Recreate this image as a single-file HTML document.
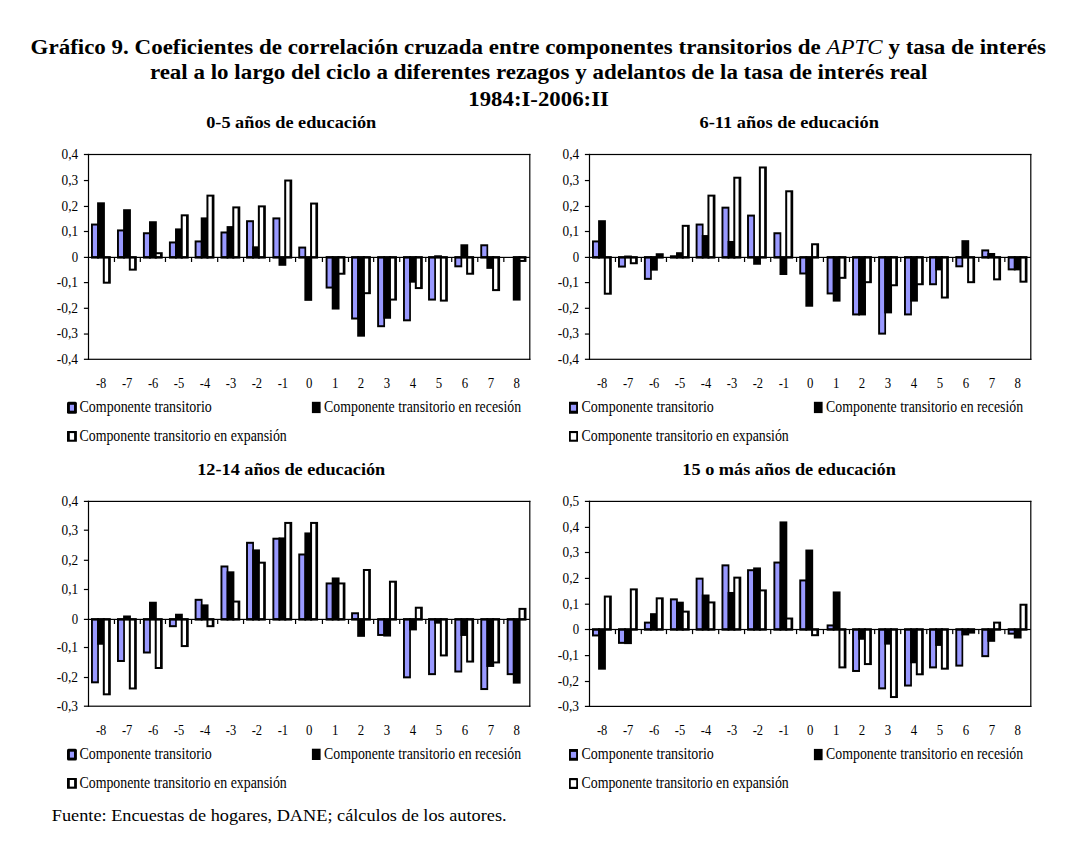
<!DOCTYPE html>
<html lang="es"><head><meta charset="utf-8"><title>Gráfico 9</title>
<style>html,body{margin:0;padding:0;background:#fff}body{width:1087px;height:845px;overflow:hidden}svg{display:block}text{fill:#000;white-space:pre}</style>
</head><body>
<svg width="1087" height="845" viewBox="0 0 1087 845">
<rect width="1087" height="845" fill="#fff"/>
<text x="30.6" y="53.5" font-family="'Liberation Serif','Times New Roman',serif" font-weight="bold" font-size="20.2" textLength="1015.4" lengthAdjust="spacingAndGlyphs">Gráfico 9. Coeficientes de correlación cruzada entre componentes transitorios de <tspan font-style="italic" font-weight="normal">APTC</tspan> y tasa de interés</text>
<text x="149.9" y="79" font-family="'Liberation Serif','Times New Roman',serif" font-weight="bold" font-size="20.2" textLength="777.6" lengthAdjust="spacingAndGlyphs">real a lo largo del ciclo a diferentes rezagos y adelantos de la tasa de interés real</text>
<text x="468.3" y="105.9" font-family="'Liberation Serif','Times New Roman',serif" font-weight="bold" font-size="20.2" textLength="140.6" lengthAdjust="spacingAndGlyphs">1984:I-2006:II</text>
<g>
<text x="206.2" y="127.8" font-family="'Liberation Serif','Times New Roman',serif" font-weight="bold" font-size="16.6" textLength="170.1" lengthAdjust="spacingAndGlyphs">0-5 años de educación</text>
<rect x="83.9" y="153.9" width="4.6" height="1.2" fill="#000"/>
<text x="61.5" y="158.9" font-family="'Liberation Serif','Times New Roman',serif" font-size="14.2" textLength="16.6" lengthAdjust="spacingAndGlyphs">0,4</text>
<rect x="83.9" y="179.95" width="4.6" height="1.2" fill="#000"/>
<text x="61.5" y="184.95" font-family="'Liberation Serif','Times New Roman',serif" font-size="14.2" textLength="16.6" lengthAdjust="spacingAndGlyphs">0,3</text>
<rect x="83.9" y="205.85" width="4.6" height="1.2" fill="#000"/>
<text x="61.5" y="210.85" font-family="'Liberation Serif','Times New Roman',serif" font-size="14.2" textLength="16.6" lengthAdjust="spacingAndGlyphs">0,2</text>
<rect x="83.9" y="230.9" width="4.6" height="1.2" fill="#000"/>
<text x="61.5" y="235.9" font-family="'Liberation Serif','Times New Roman',serif" font-size="14.2" textLength="16.6" lengthAdjust="spacingAndGlyphs">0,1</text>
<rect x="83.9" y="256.8" width="4.6" height="1.2" fill="#000"/>
<text x="71.7" y="261.8" font-family="'Liberation Serif','Times New Roman',serif" font-size="14.2" textLength="6.4" lengthAdjust="spacingAndGlyphs">0</text>
<rect x="83.9" y="282" width="4.6" height="1.2" fill="#000"/>
<text x="56.8" y="287" font-family="'Liberation Serif','Times New Roman',serif" font-size="14.2" textLength="21.3" lengthAdjust="spacingAndGlyphs">-0,1</text>
<rect x="83.9" y="307.7" width="4.6" height="1.2" fill="#000"/>
<text x="56.8" y="312.7" font-family="'Liberation Serif','Times New Roman',serif" font-size="14.2" textLength="21.3" lengthAdjust="spacingAndGlyphs">-0,2</text>
<rect x="83.9" y="333.45" width="4.6" height="1.2" fill="#000"/>
<text x="56.8" y="338.45" font-family="'Liberation Serif','Times New Roman',serif" font-size="14.2" textLength="21.3" lengthAdjust="spacingAndGlyphs">-0,3</text>
<rect x="83.9" y="358.7" width="4.6" height="1.2" fill="#000"/>
<text x="56.8" y="363.7" font-family="'Liberation Serif','Times New Roman',serif" font-size="14.2" textLength="21.3" lengthAdjust="spacingAndGlyphs">-0,4</text>
<rect x="91" y="223.55" width="7.9" height="35.05" fill="#000"/>
<rect x="92.9" y="225.55" width="4.3" height="30.55" fill="#9999ff"/>
<rect x="97.1" y="202.31" width="7.8" height="56.29" fill="#000"/>
<rect x="102.8" y="256.1" width="8" height="27.59" fill="#000"/>
<rect x="104.8" y="258.6" width="3.3" height="23.09" fill="#fff"/>
<rect x="117.01" y="229.43" width="7.9" height="29.17" fill="#000"/>
<rect x="118.91" y="231.43" width="4.3" height="24.67" fill="#9999ff"/>
<rect x="123.11" y="209.22" width="7.8" height="49.38" fill="#000"/>
<rect x="128.81" y="256.1" width="8" height="14.54" fill="#000"/>
<rect x="130.81" y="258.6" width="3.3" height="10.04" fill="#fff"/>
<rect x="142.92" y="232.25" width="7.9" height="26.35" fill="#000"/>
<rect x="144.82" y="234.25" width="4.3" height="21.85" fill="#9999ff"/>
<rect x="149.02" y="221.24" width="7.8" height="37.36" fill="#000"/>
<rect x="154.72" y="252.21" width="8" height="6.39" fill="#000"/>
<rect x="156.72" y="254.21" width="3.3" height="1.89" fill="#fff"/>
<rect x="168.93" y="241.46" width="7.9" height="17.14" fill="#000"/>
<rect x="170.83" y="243.46" width="4.3" height="12.64" fill="#9999ff"/>
<rect x="175.03" y="228.41" width="7.8" height="30.19" fill="#000"/>
<rect x="180.73" y="214.33" width="8" height="44.27" fill="#000"/>
<rect x="182.73" y="216.33" width="3.3" height="39.77" fill="#fff"/>
<rect x="194.64" y="240.44" width="7.9" height="18.16" fill="#000"/>
<rect x="196.54" y="242.44" width="4.3" height="13.66" fill="#9999ff"/>
<rect x="200.74" y="217.4" width="7.8" height="41.2" fill="#000"/>
<rect x="206.44" y="194.63" width="8" height="63.97" fill="#000"/>
<rect x="208.44" y="196.63" width="3.3" height="59.47" fill="#fff"/>
<rect x="220.49" y="231.48" width="7.9" height="27.12" fill="#000"/>
<rect x="222.39" y="233.48" width="4.3" height="22.62" fill="#9999ff"/>
<rect x="226.59" y="226.11" width="7.8" height="32.49" fill="#000"/>
<rect x="232.29" y="206.4" width="8" height="52.2" fill="#000"/>
<rect x="234.29" y="208.4" width="3.3" height="47.7" fill="#fff"/>
<rect x="246.05" y="220.22" width="7.9" height="38.38" fill="#000"/>
<rect x="247.95" y="222.22" width="4.3" height="33.88" fill="#9999ff"/>
<rect x="252.15" y="246.33" width="7.8" height="12.27" fill="#000"/>
<rect x="257.85" y="205.38" width="8" height="53.22" fill="#000"/>
<rect x="259.85" y="207.38" width="3.3" height="48.72" fill="#fff"/>
<rect x="272.41" y="217.4" width="7.9" height="41.2" fill="#000"/>
<rect x="274.31" y="219.4" width="4.3" height="36.7" fill="#9999ff"/>
<rect x="278.51" y="256.1" width="7.8" height="9.68" fill="#000"/>
<rect x="284.21" y="179.53" width="8" height="79.07" fill="#000"/>
<rect x="286.21" y="181.53" width="3.3" height="74.57" fill="#fff"/>
<rect x="298.27" y="246.58" width="7.9" height="12.02" fill="#000"/>
<rect x="300.17" y="248.58" width="4.3" height="7.52" fill="#9999ff"/>
<rect x="304.37" y="256.1" width="7.8" height="44.74" fill="#000"/>
<rect x="310.07" y="202.56" width="8" height="56.04" fill="#000"/>
<rect x="312.07" y="204.56" width="3.3" height="51.54" fill="#fff"/>
<rect x="325.63" y="256.1" width="7.9" height="32.45" fill="#000"/>
<rect x="327.53" y="258.6" width="4.3" height="27.95" fill="#9999ff"/>
<rect x="331.73" y="256.1" width="7.8" height="53.44" fill="#000"/>
<rect x="337.43" y="256.1" width="8" height="18.63" fill="#000"/>
<rect x="339.43" y="258.6" width="3.3" height="14.13" fill="#fff"/>
<rect x="351.09" y="256.1" width="7.9" height="63.42" fill="#000"/>
<rect x="352.99" y="258.6" width="4.3" height="58.92" fill="#9999ff"/>
<rect x="357.19" y="256.1" width="7.8" height="80.57" fill="#000"/>
<rect x="362.89" y="256.1" width="8" height="38.08" fill="#000"/>
<rect x="364.89" y="258.6" width="3.3" height="33.58" fill="#fff"/>
<rect x="377.15" y="256.1" width="7.9" height="71.1" fill="#000"/>
<rect x="379.05" y="258.6" width="4.3" height="66.6" fill="#9999ff"/>
<rect x="383.25" y="256.1" width="7.8" height="62.65" fill="#000"/>
<rect x="388.95" y="256.1" width="8" height="44.48" fill="#000"/>
<rect x="390.95" y="258.6" width="3.3" height="39.98" fill="#fff"/>
<rect x="403.01" y="256.1" width="7.9" height="65.21" fill="#000"/>
<rect x="404.91" y="258.6" width="4.3" height="60.71" fill="#9999ff"/>
<rect x="409.11" y="256.1" width="7.8" height="26.57" fill="#000"/>
<rect x="414.81" y="256.1" width="8" height="32.97" fill="#000"/>
<rect x="416.81" y="258.6" width="3.3" height="28.47" fill="#fff"/>
<rect x="428.06" y="256.1" width="7.9" height="44.48" fill="#000"/>
<rect x="429.96" y="258.6" width="4.3" height="39.98" fill="#9999ff"/>
<rect x="434.16" y="255.28" width="7.8" height="3.32" fill="#000"/>
<rect x="439.86" y="256.1" width="8" height="45.51" fill="#000"/>
<rect x="441.86" y="258.6" width="3.3" height="41.01" fill="#fff"/>
<rect x="454.32" y="256.1" width="7.9" height="11.21" fill="#000"/>
<rect x="456.22" y="258.6" width="4.3" height="6.71" fill="#9999ff"/>
<rect x="460.42" y="244.28" width="7.8" height="14.32" fill="#000"/>
<rect x="466.12" y="256.1" width="8" height="18.63" fill="#000"/>
<rect x="468.12" y="258.6" width="3.3" height="14.13" fill="#fff"/>
<rect x="480.28" y="244.28" width="7.9" height="14.32" fill="#000"/>
<rect x="482.18" y="246.28" width="4.3" height="9.82" fill="#9999ff"/>
<rect x="486.38" y="256.1" width="7.8" height="12.75" fill="#000"/>
<rect x="492.08" y="256.1" width="8" height="35.01" fill="#000"/>
<rect x="494.08" y="258.6" width="3.3" height="30.51" fill="#fff"/>
<rect x="512.79" y="256.1" width="7.8" height="44.48" fill="#000"/>
<rect x="518.49" y="256.1" width="8" height="5.84" fill="#000"/>
<rect x="520.49" y="258.6" width="3.3" height="1.34" fill="#fff"/>
<rect x="88.5" y="256.8" width="441.3" height="1.2" fill="#000"/>
<rect x="113.86" y="257.4" width="1.2" height="4.6" fill="#000"/>
<rect x="139.72" y="257.4" width="1.2" height="4.6" fill="#000"/>
<rect x="164.88" y="257.4" width="1.2" height="4.6" fill="#000"/>
<rect x="190.94" y="257.4" width="1.2" height="4.6" fill="#000"/>
<rect x="217.09" y="257.4" width="1.2" height="4.6" fill="#000"/>
<rect x="242.95" y="257.4" width="1.2" height="4.6" fill="#000"/>
<rect x="269.11" y="257.4" width="1.2" height="4.6" fill="#000"/>
<rect x="294.97" y="257.4" width="1.2" height="4.6" fill="#000"/>
<rect x="321.83" y="257.4" width="1.2" height="4.6" fill="#000"/>
<rect x="347.89" y="257.4" width="1.2" height="4.6" fill="#000"/>
<rect x="373.05" y="257.4" width="1.2" height="4.6" fill="#000"/>
<rect x="399.11" y="257.4" width="1.2" height="4.6" fill="#000"/>
<rect x="425.16" y="257.4" width="1.2" height="4.6" fill="#000"/>
<rect x="451.12" y="257.4" width="1.2" height="4.6" fill="#000"/>
<rect x="477.18" y="257.4" width="1.2" height="4.6" fill="#000"/>
<rect x="503.24" y="257.4" width="1.2" height="4.6" fill="#000"/>
<rect x="87.9" y="153.9" width="442.5" height="1.2" fill="#000"/>
<rect x="87.9" y="358.7" width="442.5" height="1.2" fill="#000"/>
<rect x="87.9" y="153.9" width="1.2" height="206" fill="#000"/>
<rect x="529.2" y="153.9" width="1.2" height="206" fill="#000"/>
<text x="95.98" y="387.8" font-family="'Liberation Serif','Times New Roman',serif" font-size="14.2" textLength="10.4" lengthAdjust="spacingAndGlyphs">-8</text>
<text x="121.94" y="387.8" font-family="'Liberation Serif','Times New Roman',serif" font-size="14.2" textLength="10.4" lengthAdjust="spacingAndGlyphs">-7</text>
<text x="147.9" y="387.8" font-family="'Liberation Serif','Times New Roman',serif" font-size="14.2" textLength="10.4" lengthAdjust="spacingAndGlyphs">-6</text>
<text x="173.86" y="387.8" font-family="'Liberation Serif','Times New Roman',serif" font-size="14.2" textLength="10.4" lengthAdjust="spacingAndGlyphs">-5</text>
<text x="199.81" y="387.8" font-family="'Liberation Serif','Times New Roman',serif" font-size="14.2" textLength="10.4" lengthAdjust="spacingAndGlyphs">-4</text>
<text x="225.77" y="387.8" font-family="'Liberation Serif','Times New Roman',serif" font-size="14.2" textLength="10.4" lengthAdjust="spacingAndGlyphs">-3</text>
<text x="251.73" y="387.8" font-family="'Liberation Serif','Times New Roman',serif" font-size="14.2" textLength="10.4" lengthAdjust="spacingAndGlyphs">-2</text>
<text x="277.69" y="387.8" font-family="'Liberation Serif','Times New Roman',serif" font-size="14.2" textLength="10.4" lengthAdjust="spacingAndGlyphs">-1</text>
<text x="305.95" y="387.8" font-family="'Liberation Serif','Times New Roman',serif" font-size="14.2" textLength="6.4" lengthAdjust="spacingAndGlyphs">0</text>
<text x="331.91" y="387.8" font-family="'Liberation Serif','Times New Roman',serif" font-size="14.2" textLength="6.4" lengthAdjust="spacingAndGlyphs">1</text>
<text x="357.87" y="387.8" font-family="'Liberation Serif','Times New Roman',serif" font-size="14.2" textLength="6.4" lengthAdjust="spacingAndGlyphs">2</text>
<text x="383.83" y="387.8" font-family="'Liberation Serif','Times New Roman',serif" font-size="14.2" textLength="6.4" lengthAdjust="spacingAndGlyphs">3</text>
<text x="409.79" y="387.8" font-family="'Liberation Serif','Times New Roman',serif" font-size="14.2" textLength="6.4" lengthAdjust="spacingAndGlyphs">4</text>
<text x="435.74" y="387.8" font-family="'Liberation Serif','Times New Roman',serif" font-size="14.2" textLength="6.4" lengthAdjust="spacingAndGlyphs">5</text>
<text x="461.7" y="387.8" font-family="'Liberation Serif','Times New Roman',serif" font-size="14.2" textLength="6.4" lengthAdjust="spacingAndGlyphs">6</text>
<text x="487.66" y="387.8" font-family="'Liberation Serif','Times New Roman',serif" font-size="14.2" textLength="6.4" lengthAdjust="spacingAndGlyphs">7</text>
<text x="513.62" y="387.8" font-family="'Liberation Serif','Times New Roman',serif" font-size="14.2" textLength="6.4" lengthAdjust="spacingAndGlyphs">8</text>
<rect x="67" y="401.8" width="9.9" height="11.9" rx="1.5" fill="#000"/>
<rect x="69.9" y="404.8" width="4.1" height="5.9" fill="#9999ff"/>
<text x="79.5" y="412.1" font-family="'Liberation Serif','Times New Roman',serif" font-size="16.6" textLength="132.3" lengthAdjust="spacingAndGlyphs">Componente transitorio</text>
<rect x="311.9" y="401.8" width="8.7" height="11.3" rx="0" fill="#000"/>
<text x="324.1" y="412.1" font-family="'Liberation Serif','Times New Roman',serif" font-size="16.6" textLength="197" lengthAdjust="spacingAndGlyphs">Componente transitorio en recesión</text>
<rect x="67" y="431" width="9.9" height="10.8" rx="0.3" fill="#000"/>
<rect x="69.8" y="433.1" width="4.3" height="6.6" fill="#fff"/>
<text x="79.5" y="440.7" font-family="'Liberation Serif','Times New Roman',serif" font-size="16.6" textLength="207.3" lengthAdjust="spacingAndGlyphs">Componente transitorio en expansión</text>
</g>
<g>
<text x="699.5" y="127.8" font-family="'Liberation Serif','Times New Roman',serif" font-weight="bold" font-size="16.6" textLength="179.4" lengthAdjust="spacingAndGlyphs">6-11 años de educación</text>
<rect x="584.9" y="153.9" width="4.6" height="1.2" fill="#000"/>
<text x="562.5" y="158.9" font-family="'Liberation Serif','Times New Roman',serif" font-size="14.2" textLength="16.6" lengthAdjust="spacingAndGlyphs">0,4</text>
<rect x="584.9" y="179.95" width="4.6" height="1.2" fill="#000"/>
<text x="562.5" y="184.95" font-family="'Liberation Serif','Times New Roman',serif" font-size="14.2" textLength="16.6" lengthAdjust="spacingAndGlyphs">0,3</text>
<rect x="584.9" y="205.85" width="4.6" height="1.2" fill="#000"/>
<text x="562.5" y="210.85" font-family="'Liberation Serif','Times New Roman',serif" font-size="14.2" textLength="16.6" lengthAdjust="spacingAndGlyphs">0,2</text>
<rect x="584.9" y="230.9" width="4.6" height="1.2" fill="#000"/>
<text x="562.5" y="235.9" font-family="'Liberation Serif','Times New Roman',serif" font-size="14.2" textLength="16.6" lengthAdjust="spacingAndGlyphs">0,1</text>
<rect x="584.9" y="256.8" width="4.6" height="1.2" fill="#000"/>
<text x="572.7" y="261.8" font-family="'Liberation Serif','Times New Roman',serif" font-size="14.2" textLength="6.4" lengthAdjust="spacingAndGlyphs">0</text>
<rect x="584.9" y="282" width="4.6" height="1.2" fill="#000"/>
<text x="557.8" y="287" font-family="'Liberation Serif','Times New Roman',serif" font-size="14.2" textLength="21.3" lengthAdjust="spacingAndGlyphs">-0,1</text>
<rect x="584.9" y="307.7" width="4.6" height="1.2" fill="#000"/>
<text x="557.8" y="312.7" font-family="'Liberation Serif','Times New Roman',serif" font-size="14.2" textLength="21.3" lengthAdjust="spacingAndGlyphs">-0,2</text>
<rect x="584.9" y="333.45" width="4.6" height="1.2" fill="#000"/>
<text x="557.8" y="338.45" font-family="'Liberation Serif','Times New Roman',serif" font-size="14.2" textLength="21.3" lengthAdjust="spacingAndGlyphs">-0,3</text>
<rect x="584.9" y="358.7" width="4.6" height="1.2" fill="#000"/>
<text x="557.8" y="363.7" font-family="'Liberation Serif','Times New Roman',serif" font-size="14.2" textLength="21.3" lengthAdjust="spacingAndGlyphs">-0,4</text>
<rect x="592" y="240.44" width="7.9" height="18.16" fill="#000"/>
<rect x="593.9" y="242.44" width="4.3" height="13.66" fill="#9999ff"/>
<rect x="598.1" y="220.22" width="7.8" height="38.38" fill="#000"/>
<rect x="603.8" y="256.1" width="8" height="38.6" fill="#000"/>
<rect x="605.8" y="258.6" width="3.3" height="34.1" fill="#fff"/>
<rect x="618.01" y="256.1" width="7.9" height="11.47" fill="#000"/>
<rect x="619.91" y="258.6" width="4.3" height="6.97" fill="#9999ff"/>
<rect x="624.11" y="255.54" width="7.8" height="3.06" fill="#000"/>
<rect x="629.81" y="256.1" width="8" height="8.14" fill="#000"/>
<rect x="631.81" y="258.6" width="3.3" height="3.64" fill="#fff"/>
<rect x="643.92" y="256.1" width="7.9" height="23.75" fill="#000"/>
<rect x="645.82" y="258.6" width="4.3" height="19.25" fill="#9999ff"/>
<rect x="650.02" y="256.1" width="7.8" height="14.54" fill="#000"/>
<rect x="655.72" y="253.24" width="8" height="5.36" fill="#000"/>
<rect x="669.93" y="255.28" width="7.9" height="3.32" fill="#000"/>
<rect x="676.03" y="252.21" width="7.8" height="6.39" fill="#000"/>
<rect x="681.73" y="224.83" width="8" height="33.77" fill="#000"/>
<rect x="683.73" y="226.83" width="3.3" height="29.27" fill="#fff"/>
<rect x="695.64" y="223.55" width="7.9" height="35.05" fill="#000"/>
<rect x="697.54" y="225.55" width="4.3" height="30.55" fill="#9999ff"/>
<rect x="701.74" y="235.06" width="7.8" height="23.54" fill="#000"/>
<rect x="707.44" y="194.63" width="8" height="63.97" fill="#000"/>
<rect x="709.44" y="196.63" width="3.3" height="59.47" fill="#fff"/>
<rect x="721.49" y="206.66" width="7.9" height="51.94" fill="#000"/>
<rect x="723.39" y="208.66" width="4.3" height="47.44" fill="#9999ff"/>
<rect x="727.59" y="240.95" width="7.8" height="17.65" fill="#000"/>
<rect x="733.29" y="176.71" width="8" height="81.89" fill="#000"/>
<rect x="735.29" y="178.71" width="3.3" height="77.39" fill="#fff"/>
<rect x="747.05" y="214.59" width="7.9" height="44.01" fill="#000"/>
<rect x="748.95" y="216.59" width="4.3" height="39.51" fill="#9999ff"/>
<rect x="753.15" y="256.1" width="7.8" height="8.65" fill="#000"/>
<rect x="758.85" y="166.47" width="8" height="92.13" fill="#000"/>
<rect x="760.85" y="168.47" width="3.3" height="87.63" fill="#fff"/>
<rect x="773.41" y="232.25" width="7.9" height="26.35" fill="#000"/>
<rect x="775.31" y="234.25" width="4.3" height="21.85" fill="#9999ff"/>
<rect x="779.51" y="256.1" width="7.8" height="18.89" fill="#000"/>
<rect x="785.21" y="190.28" width="8" height="68.32" fill="#000"/>
<rect x="787.21" y="192.28" width="3.3" height="63.82" fill="#fff"/>
<rect x="799.27" y="256.1" width="7.9" height="18.38" fill="#000"/>
<rect x="801.17" y="258.6" width="4.3" height="13.88" fill="#9999ff"/>
<rect x="805.37" y="256.1" width="7.8" height="50.62" fill="#000"/>
<rect x="811.07" y="243.25" width="8" height="15.35" fill="#000"/>
<rect x="813.07" y="245.25" width="3.3" height="10.85" fill="#fff"/>
<rect x="826.63" y="256.1" width="7.9" height="38.34" fill="#000"/>
<rect x="828.53" y="258.6" width="4.3" height="33.84" fill="#9999ff"/>
<rect x="832.73" y="256.1" width="7.8" height="45.51" fill="#000"/>
<rect x="838.43" y="256.1" width="8" height="22.73" fill="#000"/>
<rect x="840.43" y="258.6" width="3.3" height="18.23" fill="#fff"/>
<rect x="852.09" y="256.1" width="7.9" height="59.33" fill="#000"/>
<rect x="853.99" y="258.6" width="4.3" height="54.83" fill="#9999ff"/>
<rect x="858.19" y="256.1" width="7.8" height="59.33" fill="#000"/>
<rect x="863.89" y="256.1" width="8" height="27.08" fill="#000"/>
<rect x="865.89" y="258.6" width="3.3" height="22.58" fill="#fff"/>
<rect x="878.15" y="256.1" width="7.9" height="78.52" fill="#000"/>
<rect x="880.05" y="258.6" width="4.3" height="74.02" fill="#9999ff"/>
<rect x="884.25" y="256.1" width="7.8" height="57.28" fill="#000"/>
<rect x="889.95" y="256.1" width="8" height="30.15" fill="#000"/>
<rect x="891.95" y="258.6" width="3.3" height="25.65" fill="#fff"/>
<rect x="904.01" y="256.1" width="7.9" height="59.33" fill="#000"/>
<rect x="905.91" y="258.6" width="4.3" height="54.83" fill="#9999ff"/>
<rect x="910.11" y="256.1" width="7.8" height="45.51" fill="#000"/>
<rect x="915.81" y="256.1" width="8" height="29.13" fill="#000"/>
<rect x="917.81" y="258.6" width="3.3" height="24.63" fill="#fff"/>
<rect x="929.06" y="256.1" width="7.9" height="29.13" fill="#000"/>
<rect x="930.96" y="258.6" width="4.3" height="24.63" fill="#9999ff"/>
<rect x="935.16" y="256.1" width="7.8" height="14.28" fill="#000"/>
<rect x="940.86" y="256.1" width="8" height="42.43" fill="#000"/>
<rect x="942.86" y="258.6" width="3.3" height="37.93" fill="#fff"/>
<rect x="955.32" y="256.1" width="7.9" height="11.21" fill="#000"/>
<rect x="957.22" y="258.6" width="4.3" height="6.71" fill="#9999ff"/>
<rect x="961.42" y="240.18" width="7.8" height="18.42" fill="#000"/>
<rect x="967.12" y="256.1" width="8" height="27.08" fill="#000"/>
<rect x="969.12" y="258.6" width="3.3" height="22.58" fill="#fff"/>
<rect x="981.28" y="249.4" width="7.9" height="9.2" fill="#000"/>
<rect x="983.18" y="251.4" width="4.3" height="4.7" fill="#9999ff"/>
<rect x="987.38" y="252.98" width="7.8" height="5.62" fill="#000"/>
<rect x="993.08" y="256.1" width="8" height="24.26" fill="#000"/>
<rect x="995.08" y="258.6" width="3.3" height="19.76" fill="#fff"/>
<rect x="1007.69" y="256.1" width="7.9" height="14.28" fill="#000"/>
<rect x="1009.59" y="258.6" width="4.3" height="9.78" fill="#9999ff"/>
<rect x="1013.79" y="256.1" width="7.8" height="14.28" fill="#000"/>
<rect x="1019.49" y="256.1" width="8" height="26.57" fill="#000"/>
<rect x="1021.49" y="258.6" width="3.3" height="22.07" fill="#fff"/>
<rect x="589.5" y="256.8" width="441.3" height="1.2" fill="#000"/>
<rect x="614.86" y="257.4" width="1.2" height="4.6" fill="#000"/>
<rect x="640.72" y="257.4" width="1.2" height="4.6" fill="#000"/>
<rect x="665.88" y="257.4" width="1.2" height="4.6" fill="#000"/>
<rect x="691.94" y="257.4" width="1.2" height="4.6" fill="#000"/>
<rect x="718.09" y="257.4" width="1.2" height="4.6" fill="#000"/>
<rect x="743.95" y="257.4" width="1.2" height="4.6" fill="#000"/>
<rect x="770.11" y="257.4" width="1.2" height="4.6" fill="#000"/>
<rect x="795.97" y="257.4" width="1.2" height="4.6" fill="#000"/>
<rect x="822.83" y="257.4" width="1.2" height="4.6" fill="#000"/>
<rect x="848.89" y="257.4" width="1.2" height="4.6" fill="#000"/>
<rect x="874.05" y="257.4" width="1.2" height="4.6" fill="#000"/>
<rect x="900.11" y="257.4" width="1.2" height="4.6" fill="#000"/>
<rect x="926.16" y="257.4" width="1.2" height="4.6" fill="#000"/>
<rect x="952.12" y="257.4" width="1.2" height="4.6" fill="#000"/>
<rect x="978.18" y="257.4" width="1.2" height="4.6" fill="#000"/>
<rect x="1004.24" y="257.4" width="1.2" height="4.6" fill="#000"/>
<rect x="588.9" y="153.9" width="442.5" height="1.2" fill="#000"/>
<rect x="588.9" y="358.7" width="442.5" height="1.2" fill="#000"/>
<rect x="588.9" y="153.9" width="1.2" height="206" fill="#000"/>
<rect x="1030.2" y="153.9" width="1.2" height="206" fill="#000"/>
<text x="596.98" y="387.8" font-family="'Liberation Serif','Times New Roman',serif" font-size="14.2" textLength="10.4" lengthAdjust="spacingAndGlyphs">-8</text>
<text x="622.94" y="387.8" font-family="'Liberation Serif','Times New Roman',serif" font-size="14.2" textLength="10.4" lengthAdjust="spacingAndGlyphs">-7</text>
<text x="648.9" y="387.8" font-family="'Liberation Serif','Times New Roman',serif" font-size="14.2" textLength="10.4" lengthAdjust="spacingAndGlyphs">-6</text>
<text x="674.86" y="387.8" font-family="'Liberation Serif','Times New Roman',serif" font-size="14.2" textLength="10.4" lengthAdjust="spacingAndGlyphs">-5</text>
<text x="700.81" y="387.8" font-family="'Liberation Serif','Times New Roman',serif" font-size="14.2" textLength="10.4" lengthAdjust="spacingAndGlyphs">-4</text>
<text x="726.77" y="387.8" font-family="'Liberation Serif','Times New Roman',serif" font-size="14.2" textLength="10.4" lengthAdjust="spacingAndGlyphs">-3</text>
<text x="752.73" y="387.8" font-family="'Liberation Serif','Times New Roman',serif" font-size="14.2" textLength="10.4" lengthAdjust="spacingAndGlyphs">-2</text>
<text x="778.69" y="387.8" font-family="'Liberation Serif','Times New Roman',serif" font-size="14.2" textLength="10.4" lengthAdjust="spacingAndGlyphs">-1</text>
<text x="806.95" y="387.8" font-family="'Liberation Serif','Times New Roman',serif" font-size="14.2" textLength="6.4" lengthAdjust="spacingAndGlyphs">0</text>
<text x="832.91" y="387.8" font-family="'Liberation Serif','Times New Roman',serif" font-size="14.2" textLength="6.4" lengthAdjust="spacingAndGlyphs">1</text>
<text x="858.87" y="387.8" font-family="'Liberation Serif','Times New Roman',serif" font-size="14.2" textLength="6.4" lengthAdjust="spacingAndGlyphs">2</text>
<text x="884.83" y="387.8" font-family="'Liberation Serif','Times New Roman',serif" font-size="14.2" textLength="6.4" lengthAdjust="spacingAndGlyphs">3</text>
<text x="910.79" y="387.8" font-family="'Liberation Serif','Times New Roman',serif" font-size="14.2" textLength="6.4" lengthAdjust="spacingAndGlyphs">4</text>
<text x="936.74" y="387.8" font-family="'Liberation Serif','Times New Roman',serif" font-size="14.2" textLength="6.4" lengthAdjust="spacingAndGlyphs">5</text>
<text x="962.7" y="387.8" font-family="'Liberation Serif','Times New Roman',serif" font-size="14.2" textLength="6.4" lengthAdjust="spacingAndGlyphs">6</text>
<text x="988.66" y="387.8" font-family="'Liberation Serif','Times New Roman',serif" font-size="14.2" textLength="6.4" lengthAdjust="spacingAndGlyphs">7</text>
<text x="1014.62" y="387.8" font-family="'Liberation Serif','Times New Roman',serif" font-size="14.2" textLength="6.4" lengthAdjust="spacingAndGlyphs">8</text>
<rect x="569" y="401.8" width="9" height="11.9" rx="0.3" fill="#000"/>
<rect x="570.9" y="404.8" width="5.2" height="5.9" fill="#9999ff"/>
<text x="581.5" y="412.1" font-family="'Liberation Serif','Times New Roman',serif" font-size="16.6" textLength="132.3" lengthAdjust="spacingAndGlyphs">Componente transitorio</text>
<rect x="813.9" y="401.8" width="8.7" height="11.3" rx="0" fill="#000"/>
<text x="826.1" y="412.1" font-family="'Liberation Serif','Times New Roman',serif" font-size="16.6" textLength="197" lengthAdjust="spacingAndGlyphs">Componente transitorio en recesión</text>
<rect x="569" y="431" width="9" height="10.8" rx="0.3" fill="#000"/>
<rect x="570.8" y="433.1" width="5.4" height="6.6" fill="#fff"/>
<text x="581.5" y="440.7" font-family="'Liberation Serif','Times New Roman',serif" font-size="16.6" textLength="207.3" lengthAdjust="spacingAndGlyphs">Componente transitorio en expansión</text>
</g>
<g>
<text x="197.2" y="474.7" font-family="'Liberation Serif','Times New Roman',serif" font-weight="bold" font-size="16.6" textLength="188.1" lengthAdjust="spacingAndGlyphs">12-14 años de educación</text>
<rect x="83.9" y="500.8" width="4.6" height="1.2" fill="#000"/>
<text x="61.5" y="505.8" font-family="'Liberation Serif','Times New Roman',serif" font-size="14.2" textLength="16.6" lengthAdjust="spacingAndGlyphs">0,4</text>
<rect x="83.9" y="529.6" width="4.6" height="1.2" fill="#000"/>
<text x="61.5" y="534.6" font-family="'Liberation Serif','Times New Roman',serif" font-size="14.2" textLength="16.6" lengthAdjust="spacingAndGlyphs">0,3</text>
<rect x="83.9" y="559.7" width="4.6" height="1.2" fill="#000"/>
<text x="61.5" y="564.7" font-family="'Liberation Serif','Times New Roman',serif" font-size="14.2" textLength="16.6" lengthAdjust="spacingAndGlyphs">0,2</text>
<rect x="83.9" y="588.9" width="4.6" height="1.2" fill="#000"/>
<text x="61.5" y="593.9" font-family="'Liberation Serif','Times New Roman',serif" font-size="14.2" textLength="16.6" lengthAdjust="spacingAndGlyphs">0,1</text>
<rect x="83.9" y="618.8" width="4.6" height="1.2" fill="#000"/>
<text x="71.7" y="623.8" font-family="'Liberation Serif','Times New Roman',serif" font-size="14.2" textLength="6.4" lengthAdjust="spacingAndGlyphs">0</text>
<rect x="83.9" y="646.9" width="4.6" height="1.2" fill="#000"/>
<text x="56.8" y="651.9" font-family="'Liberation Serif','Times New Roman',serif" font-size="14.2" textLength="21.3" lengthAdjust="spacingAndGlyphs">-0,1</text>
<rect x="83.9" y="676.9" width="4.6" height="1.2" fill="#000"/>
<text x="56.8" y="681.9" font-family="'Liberation Serif','Times New Roman',serif" font-size="14.2" textLength="21.3" lengthAdjust="spacingAndGlyphs">-0,2</text>
<rect x="83.9" y="705.6" width="4.6" height="1.2" fill="#000"/>
<text x="56.8" y="710.6" font-family="'Liberation Serif','Times New Roman',serif" font-size="14.2" textLength="21.3" lengthAdjust="spacingAndGlyphs">-0,3</text>
<rect x="91" y="618.1" width="7.9" height="65.22" fill="#000"/>
<rect x="92.9" y="620.6" width="4.3" height="60.72" fill="#9999ff"/>
<rect x="97.1" y="618.1" width="7.8" height="26.63" fill="#000"/>
<rect x="102.8" y="618.1" width="8" height="77.21" fill="#000"/>
<rect x="104.8" y="620.6" width="3.3" height="72.71" fill="#fff"/>
<rect x="117.01" y="618.1" width="7.9" height="43.88" fill="#000"/>
<rect x="118.91" y="620.6" width="4.3" height="39.38" fill="#9999ff"/>
<rect x="123.11" y="615.49" width="7.8" height="5.11" fill="#000"/>
<rect x="128.81" y="618.1" width="8" height="71.36" fill="#000"/>
<rect x="130.81" y="620.6" width="3.3" height="66.86" fill="#fff"/>
<rect x="142.92" y="618.1" width="7.9" height="35.4" fill="#000"/>
<rect x="144.82" y="620.6" width="4.3" height="30.9" fill="#9999ff"/>
<rect x="149.02" y="601.74" width="7.8" height="18.86" fill="#000"/>
<rect x="154.72" y="618.1" width="8" height="50.9" fill="#000"/>
<rect x="156.72" y="620.6" width="3.3" height="46.4" fill="#fff"/>
<rect x="168.93" y="618.1" width="7.9" height="9.08" fill="#000"/>
<rect x="170.83" y="620.6" width="4.3" height="4.58" fill="#9999ff"/>
<rect x="175.03" y="613.73" width="7.8" height="6.87" fill="#000"/>
<rect x="180.73" y="618.1" width="8" height="28.97" fill="#000"/>
<rect x="182.73" y="620.6" width="3.3" height="24.47" fill="#fff"/>
<rect x="194.64" y="598.82" width="7.9" height="21.78" fill="#000"/>
<rect x="196.54" y="600.82" width="4.3" height="17.28" fill="#9999ff"/>
<rect x="200.74" y="604.38" width="7.8" height="16.22" fill="#000"/>
<rect x="206.44" y="618.1" width="8" height="9.08" fill="#000"/>
<rect x="208.44" y="620.6" width="3.3" height="4.58" fill="#fff"/>
<rect x="220.49" y="565.49" width="7.9" height="55.11" fill="#000"/>
<rect x="222.39" y="567.49" width="4.3" height="50.61" fill="#9999ff"/>
<rect x="226.59" y="571.33" width="7.8" height="49.27" fill="#000"/>
<rect x="232.29" y="600.57" width="8" height="20.03" fill="#000"/>
<rect x="234.29" y="602.57" width="3.3" height="15.53" fill="#fff"/>
<rect x="246.05" y="541.8" width="7.9" height="78.8" fill="#000"/>
<rect x="247.95" y="543.8" width="4.3" height="74.3" fill="#9999ff"/>
<rect x="252.15" y="549.4" width="7.8" height="71.2" fill="#000"/>
<rect x="257.85" y="561.68" width="8" height="58.92" fill="#000"/>
<rect x="259.85" y="563.68" width="3.3" height="54.42" fill="#fff"/>
<rect x="272.41" y="537.71" width="7.9" height="82.89" fill="#000"/>
<rect x="274.31" y="539.71" width="4.3" height="78.39" fill="#9999ff"/>
<rect x="278.51" y="537.42" width="7.8" height="83.18" fill="#000"/>
<rect x="284.21" y="521.92" width="8" height="98.68" fill="#000"/>
<rect x="286.21" y="523.92" width="3.3" height="94.18" fill="#fff"/>
<rect x="298.27" y="553.5" width="7.9" height="67.1" fill="#000"/>
<rect x="300.17" y="555.5" width="4.3" height="62.6" fill="#9999ff"/>
<rect x="304.37" y="532.44" width="7.8" height="88.16" fill="#000"/>
<rect x="310.07" y="521.92" width="8" height="98.68" fill="#000"/>
<rect x="312.07" y="523.92" width="3.3" height="94.18" fill="#fff"/>
<rect x="325.63" y="582.45" width="7.9" height="38.15" fill="#000"/>
<rect x="327.53" y="584.45" width="4.3" height="33.65" fill="#9999ff"/>
<rect x="331.73" y="577.47" width="7.8" height="43.13" fill="#000"/>
<rect x="337.43" y="582.45" width="8" height="38.15" fill="#000"/>
<rect x="339.43" y="584.45" width="3.3" height="33.65" fill="#fff"/>
<rect x="351.09" y="612.27" width="7.9" height="8.33" fill="#000"/>
<rect x="352.99" y="614.27" width="4.3" height="3.83" fill="#9999ff"/>
<rect x="357.19" y="618.1" width="7.8" height="18.73" fill="#000"/>
<rect x="362.89" y="568.99" width="8" height="51.61" fill="#000"/>
<rect x="364.89" y="570.99" width="3.3" height="47.11" fill="#fff"/>
<rect x="377.15" y="618.1" width="7.9" height="17.85" fill="#000"/>
<rect x="379.05" y="620.6" width="4.3" height="13.35" fill="#9999ff"/>
<rect x="383.25" y="618.1" width="7.8" height="18.44" fill="#000"/>
<rect x="388.95" y="580.69" width="8" height="39.91" fill="#000"/>
<rect x="390.95" y="582.69" width="3.3" height="35.41" fill="#fff"/>
<rect x="403.01" y="618.1" width="7.9" height="60.25" fill="#000"/>
<rect x="404.91" y="620.6" width="4.3" height="55.75" fill="#9999ff"/>
<rect x="409.11" y="618.1" width="7.8" height="12.3" fill="#000"/>
<rect x="414.81" y="606.71" width="8" height="13.89" fill="#000"/>
<rect x="416.81" y="608.71" width="3.3" height="9.39" fill="#fff"/>
<rect x="428.06" y="618.1" width="7.9" height="57.04" fill="#000"/>
<rect x="429.96" y="620.6" width="4.3" height="52.54" fill="#9999ff"/>
<rect x="434.16" y="618.1" width="7.8" height="5.57" fill="#000"/>
<rect x="439.86" y="618.1" width="8" height="38.32" fill="#000"/>
<rect x="441.86" y="620.6" width="3.3" height="33.82" fill="#fff"/>
<rect x="454.32" y="618.1" width="7.9" height="54.4" fill="#000"/>
<rect x="456.22" y="620.6" width="4.3" height="49.9" fill="#9999ff"/>
<rect x="460.42" y="618.1" width="7.8" height="17.85" fill="#000"/>
<rect x="466.12" y="618.1" width="8" height="44.46" fill="#000"/>
<rect x="468.12" y="620.6" width="3.3" height="39.96" fill="#fff"/>
<rect x="480.28" y="618.1" width="7.9" height="71.95" fill="#000"/>
<rect x="482.18" y="620.6" width="4.3" height="67.45" fill="#9999ff"/>
<rect x="486.38" y="618.1" width="7.8" height="48.85" fill="#000"/>
<rect x="492.08" y="618.1" width="8" height="45.34" fill="#000"/>
<rect x="494.08" y="620.6" width="3.3" height="40.84" fill="#fff"/>
<rect x="506.69" y="618.1" width="7.9" height="57.04" fill="#000"/>
<rect x="508.59" y="620.6" width="4.3" height="52.54" fill="#9999ff"/>
<rect x="512.79" y="618.1" width="7.8" height="65.52" fill="#000"/>
<rect x="518.49" y="607.88" width="8" height="12.72" fill="#000"/>
<rect x="520.49" y="609.88" width="3.3" height="8.22" fill="#fff"/>
<rect x="88.5" y="618.8" width="441.3" height="1.2" fill="#000"/>
<rect x="113.86" y="619.4" width="1.2" height="4.6" fill="#000"/>
<rect x="139.72" y="619.4" width="1.2" height="4.6" fill="#000"/>
<rect x="164.88" y="619.4" width="1.2" height="4.6" fill="#000"/>
<rect x="190.94" y="619.4" width="1.2" height="4.6" fill="#000"/>
<rect x="217.09" y="619.4" width="1.2" height="4.6" fill="#000"/>
<rect x="242.95" y="619.4" width="1.2" height="4.6" fill="#000"/>
<rect x="269.11" y="619.4" width="1.2" height="4.6" fill="#000"/>
<rect x="294.97" y="619.4" width="1.2" height="4.6" fill="#000"/>
<rect x="321.83" y="619.4" width="1.2" height="4.6" fill="#000"/>
<rect x="347.89" y="619.4" width="1.2" height="4.6" fill="#000"/>
<rect x="373.05" y="619.4" width="1.2" height="4.6" fill="#000"/>
<rect x="399.11" y="619.4" width="1.2" height="4.6" fill="#000"/>
<rect x="425.16" y="619.4" width="1.2" height="4.6" fill="#000"/>
<rect x="451.12" y="619.4" width="1.2" height="4.6" fill="#000"/>
<rect x="477.18" y="619.4" width="1.2" height="4.6" fill="#000"/>
<rect x="503.24" y="619.4" width="1.2" height="4.6" fill="#000"/>
<rect x="87.9" y="500.8" width="442.5" height="1.2" fill="#000"/>
<rect x="87.9" y="705.6" width="442.5" height="1.2" fill="#000"/>
<rect x="87.9" y="500.8" width="1.2" height="206" fill="#000"/>
<rect x="529.2" y="500.8" width="1.2" height="206" fill="#000"/>
<text x="95.98" y="734.7" font-family="'Liberation Serif','Times New Roman',serif" font-size="14.2" textLength="10.4" lengthAdjust="spacingAndGlyphs">-8</text>
<text x="121.94" y="734.7" font-family="'Liberation Serif','Times New Roman',serif" font-size="14.2" textLength="10.4" lengthAdjust="spacingAndGlyphs">-7</text>
<text x="147.9" y="734.7" font-family="'Liberation Serif','Times New Roman',serif" font-size="14.2" textLength="10.4" lengthAdjust="spacingAndGlyphs">-6</text>
<text x="173.86" y="734.7" font-family="'Liberation Serif','Times New Roman',serif" font-size="14.2" textLength="10.4" lengthAdjust="spacingAndGlyphs">-5</text>
<text x="199.81" y="734.7" font-family="'Liberation Serif','Times New Roman',serif" font-size="14.2" textLength="10.4" lengthAdjust="spacingAndGlyphs">-4</text>
<text x="225.77" y="734.7" font-family="'Liberation Serif','Times New Roman',serif" font-size="14.2" textLength="10.4" lengthAdjust="spacingAndGlyphs">-3</text>
<text x="251.73" y="734.7" font-family="'Liberation Serif','Times New Roman',serif" font-size="14.2" textLength="10.4" lengthAdjust="spacingAndGlyphs">-2</text>
<text x="277.69" y="734.7" font-family="'Liberation Serif','Times New Roman',serif" font-size="14.2" textLength="10.4" lengthAdjust="spacingAndGlyphs">-1</text>
<text x="305.95" y="734.7" font-family="'Liberation Serif','Times New Roman',serif" font-size="14.2" textLength="6.4" lengthAdjust="spacingAndGlyphs">0</text>
<text x="331.91" y="734.7" font-family="'Liberation Serif','Times New Roman',serif" font-size="14.2" textLength="6.4" lengthAdjust="spacingAndGlyphs">1</text>
<text x="357.87" y="734.7" font-family="'Liberation Serif','Times New Roman',serif" font-size="14.2" textLength="6.4" lengthAdjust="spacingAndGlyphs">2</text>
<text x="383.83" y="734.7" font-family="'Liberation Serif','Times New Roman',serif" font-size="14.2" textLength="6.4" lengthAdjust="spacingAndGlyphs">3</text>
<text x="409.79" y="734.7" font-family="'Liberation Serif','Times New Roman',serif" font-size="14.2" textLength="6.4" lengthAdjust="spacingAndGlyphs">4</text>
<text x="435.74" y="734.7" font-family="'Liberation Serif','Times New Roman',serif" font-size="14.2" textLength="6.4" lengthAdjust="spacingAndGlyphs">5</text>
<text x="461.7" y="734.7" font-family="'Liberation Serif','Times New Roman',serif" font-size="14.2" textLength="6.4" lengthAdjust="spacingAndGlyphs">6</text>
<text x="487.66" y="734.7" font-family="'Liberation Serif','Times New Roman',serif" font-size="14.2" textLength="6.4" lengthAdjust="spacingAndGlyphs">7</text>
<text x="513.62" y="734.7" font-family="'Liberation Serif','Times New Roman',serif" font-size="14.2" textLength="6.4" lengthAdjust="spacingAndGlyphs">8</text>
<rect x="67" y="748.7" width="9.9" height="11.9" rx="1.5" fill="#000"/>
<rect x="69.9" y="751.7" width="4.1" height="5.9" fill="#9999ff"/>
<text x="79.5" y="759" font-family="'Liberation Serif','Times New Roman',serif" font-size="16.6" textLength="132.3" lengthAdjust="spacingAndGlyphs">Componente transitorio</text>
<rect x="311.9" y="748.7" width="8.7" height="11.3" rx="0" fill="#000"/>
<text x="324.1" y="759" font-family="'Liberation Serif','Times New Roman',serif" font-size="16.6" textLength="197" lengthAdjust="spacingAndGlyphs">Componente transitorio en recesión</text>
<rect x="67" y="777.9" width="9.9" height="10.8" rx="0.3" fill="#000"/>
<rect x="69.8" y="780" width="4.3" height="6.6" fill="#fff"/>
<text x="79.5" y="787.6" font-family="'Liberation Serif','Times New Roman',serif" font-size="16.6" textLength="207.3" lengthAdjust="spacingAndGlyphs">Componente transitorio en expansión</text>
</g>
<g>
<text x="682.3" y="474.7" font-family="'Liberation Serif','Times New Roman',serif" font-weight="bold" font-size="16.6" textLength="213.6" lengthAdjust="spacingAndGlyphs">15 o más años de educación</text>
<rect x="584.9" y="500.8" width="4.6" height="1.2" fill="#000"/>
<text x="562.5" y="505.8" font-family="'Liberation Serif','Times New Roman',serif" font-size="14.2" textLength="16.6" lengthAdjust="spacingAndGlyphs">0,5</text>
<rect x="584.9" y="526.8" width="4.6" height="1.2" fill="#000"/>
<text x="562.5" y="531.8" font-family="'Liberation Serif','Times New Roman',serif" font-size="14.2" textLength="16.6" lengthAdjust="spacingAndGlyphs">0,4</text>
<rect x="584.9" y="551.9" width="4.6" height="1.2" fill="#000"/>
<text x="562.5" y="556.9" font-family="'Liberation Serif','Times New Roman',serif" font-size="14.2" textLength="16.6" lengthAdjust="spacingAndGlyphs">0,3</text>
<rect x="584.9" y="577.8" width="4.6" height="1.2" fill="#000"/>
<text x="562.5" y="582.8" font-family="'Liberation Serif','Times New Roman',serif" font-size="14.2" textLength="16.6" lengthAdjust="spacingAndGlyphs">0,2</text>
<rect x="584.9" y="603.6" width="4.6" height="1.2" fill="#000"/>
<text x="562.5" y="608.6" font-family="'Liberation Serif','Times New Roman',serif" font-size="14.2" textLength="16.6" lengthAdjust="spacingAndGlyphs">0,1</text>
<rect x="584.9" y="628.9" width="4.6" height="1.2" fill="#000"/>
<text x="572.7" y="633.9" font-family="'Liberation Serif','Times New Roman',serif" font-size="14.2" textLength="6.4" lengthAdjust="spacingAndGlyphs">0</text>
<rect x="584.9" y="655" width="4.6" height="1.2" fill="#000"/>
<text x="557.8" y="660" font-family="'Liberation Serif','Times New Roman',serif" font-size="14.2" textLength="21.3" lengthAdjust="spacingAndGlyphs">-0,1</text>
<rect x="584.9" y="680.9" width="4.6" height="1.2" fill="#000"/>
<text x="557.8" y="685.9" font-family="'Liberation Serif','Times New Roman',serif" font-size="14.2" textLength="21.3" lengthAdjust="spacingAndGlyphs">-0,2</text>
<rect x="584.9" y="705.8" width="4.6" height="1.2" fill="#000"/>
<text x="557.8" y="710.8" font-family="'Liberation Serif','Times New Roman',serif" font-size="14.2" textLength="21.3" lengthAdjust="spacingAndGlyphs">-0,3</text>
<rect x="592" y="628.2" width="7.9" height="8.24" fill="#000"/>
<rect x="593.9" y="630.7" width="4.3" height="3.74" fill="#9999ff"/>
<rect x="598.1" y="628.2" width="7.8" height="41.47" fill="#000"/>
<rect x="603.8" y="595.55" width="8" height="35.15" fill="#000"/>
<rect x="605.8" y="597.55" width="3.3" height="30.65" fill="#fff"/>
<rect x="618.01" y="628.2" width="7.9" height="15.65" fill="#000"/>
<rect x="619.91" y="630.7" width="4.3" height="11.15" fill="#9999ff"/>
<rect x="624.11" y="628.2" width="7.8" height="15.91" fill="#000"/>
<rect x="629.81" y="588.39" width="8" height="42.31" fill="#000"/>
<rect x="631.81" y="590.39" width="3.3" height="37.81" fill="#fff"/>
<rect x="643.92" y="621.62" width="7.9" height="9.08" fill="#000"/>
<rect x="645.82" y="623.62" width="4.3" height="4.58" fill="#9999ff"/>
<rect x="650.02" y="613.18" width="7.8" height="17.52" fill="#000"/>
<rect x="655.72" y="597.34" width="8" height="33.36" fill="#000"/>
<rect x="657.72" y="599.34" width="3.3" height="28.86" fill="#fff"/>
<rect x="669.93" y="598.36" width="7.9" height="32.34" fill="#000"/>
<rect x="671.83" y="600.36" width="4.3" height="27.84" fill="#9999ff"/>
<rect x="676.03" y="601.68" width="7.8" height="29.02" fill="#000"/>
<rect x="681.73" y="610.63" width="8" height="20.07" fill="#000"/>
<rect x="683.73" y="612.63" width="3.3" height="15.57" fill="#fff"/>
<rect x="695.64" y="577.65" width="7.9" height="53.05" fill="#000"/>
<rect x="697.54" y="579.65" width="4.3" height="48.55" fill="#9999ff"/>
<rect x="701.74" y="594.52" width="7.8" height="36.18" fill="#000"/>
<rect x="707.44" y="601.43" width="8" height="29.27" fill="#000"/>
<rect x="709.44" y="603.43" width="3.3" height="24.77" fill="#fff"/>
<rect x="721.49" y="564.36" width="7.9" height="66.34" fill="#000"/>
<rect x="723.39" y="566.36" width="4.3" height="61.84" fill="#9999ff"/>
<rect x="727.59" y="591.97" width="7.8" height="38.73" fill="#000"/>
<rect x="733.29" y="576.63" width="8" height="54.07" fill="#000"/>
<rect x="735.29" y="578.63" width="3.3" height="49.57" fill="#fff"/>
<rect x="747.05" y="569.22" width="7.9" height="61.48" fill="#000"/>
<rect x="748.95" y="571.22" width="4.3" height="56.98" fill="#9999ff"/>
<rect x="753.15" y="567.43" width="7.8" height="63.27" fill="#000"/>
<rect x="758.85" y="589.41" width="8" height="41.29" fill="#000"/>
<rect x="760.85" y="591.41" width="3.3" height="36.79" fill="#fff"/>
<rect x="773.41" y="561.55" width="7.9" height="69.15" fill="#000"/>
<rect x="775.31" y="563.55" width="4.3" height="64.65" fill="#9999ff"/>
<rect x="779.51" y="521.42" width="7.8" height="109.28" fill="#000"/>
<rect x="785.21" y="617.53" width="8" height="13.17" fill="#000"/>
<rect x="787.21" y="619.53" width="3.3" height="8.67" fill="#fff"/>
<rect x="799.27" y="579.44" width="7.9" height="51.26" fill="#000"/>
<rect x="801.17" y="581.44" width="4.3" height="46.76" fill="#9999ff"/>
<rect x="805.37" y="549.54" width="7.8" height="81.16" fill="#000"/>
<rect x="811.07" y="628.2" width="8" height="7.99" fill="#000"/>
<rect x="813.07" y="630.7" width="3.3" height="3.49" fill="#fff"/>
<rect x="826.63" y="624.43" width="7.9" height="6.27" fill="#000"/>
<rect x="828.53" y="626.43" width="4.3" height="1.77" fill="#9999ff"/>
<rect x="832.73" y="591.46" width="7.8" height="39.24" fill="#000"/>
<rect x="838.43" y="628.2" width="8" height="40.19" fill="#000"/>
<rect x="840.43" y="630.7" width="3.3" height="35.69" fill="#fff"/>
<rect x="852.09" y="628.2" width="7.9" height="43.77" fill="#000"/>
<rect x="853.99" y="630.7" width="4.3" height="39.27" fill="#9999ff"/>
<rect x="858.19" y="628.2" width="7.8" height="11.57" fill="#000"/>
<rect x="863.89" y="628.2" width="8" height="36.87" fill="#000"/>
<rect x="865.89" y="630.7" width="3.3" height="32.37" fill="#fff"/>
<rect x="878.15" y="628.2" width="7.9" height="61.15" fill="#000"/>
<rect x="880.05" y="630.7" width="4.3" height="56.65" fill="#9999ff"/>
<rect x="884.25" y="628.2" width="7.8" height="16.42" fill="#000"/>
<rect x="889.95" y="628.2" width="8" height="69.84" fill="#000"/>
<rect x="891.95" y="630.7" width="3.3" height="65.34" fill="#fff"/>
<rect x="904.01" y="628.2" width="7.9" height="58.34" fill="#000"/>
<rect x="905.91" y="630.7" width="4.3" height="53.84" fill="#9999ff"/>
<rect x="910.11" y="628.2" width="7.8" height="35.08" fill="#000"/>
<rect x="915.81" y="628.2" width="8" height="47.09" fill="#000"/>
<rect x="917.81" y="630.7" width="3.3" height="42.59" fill="#fff"/>
<rect x="929.06" y="628.2" width="7.9" height="40.19" fill="#000"/>
<rect x="930.96" y="630.7" width="4.3" height="35.69" fill="#9999ff"/>
<rect x="935.16" y="628.2" width="7.8" height="17.7" fill="#000"/>
<rect x="940.86" y="628.2" width="8" height="41.47" fill="#000"/>
<rect x="942.86" y="630.7" width="3.3" height="36.97" fill="#fff"/>
<rect x="955.32" y="628.2" width="7.9" height="38.4" fill="#000"/>
<rect x="957.22" y="630.7" width="4.3" height="33.9" fill="#9999ff"/>
<rect x="961.42" y="628.2" width="7.8" height="7.22" fill="#000"/>
<rect x="967.12" y="628.2" width="8" height="5.43" fill="#000"/>
<rect x="981.28" y="628.2" width="7.9" height="28.95" fill="#000"/>
<rect x="983.18" y="630.7" width="4.3" height="24.45" fill="#9999ff"/>
<rect x="987.38" y="628.2" width="7.8" height="13.61" fill="#000"/>
<rect x="993.08" y="621.62" width="8" height="9.08" fill="#000"/>
<rect x="995.08" y="623.62" width="3.3" height="4.58" fill="#fff"/>
<rect x="1007.69" y="628.2" width="7.9" height="6.45" fill="#000"/>
<rect x="1009.59" y="630.7" width="4.3" height="1.95" fill="#9999ff"/>
<rect x="1013.79" y="628.2" width="7.8" height="10.29" fill="#000"/>
<rect x="1019.49" y="603.73" width="8" height="26.97" fill="#000"/>
<rect x="1021.49" y="605.73" width="3.3" height="22.47" fill="#fff"/>
<rect x="589.5" y="628.9" width="441.3" height="1.2" fill="#000"/>
<rect x="614.86" y="629.5" width="1.2" height="4.6" fill="#000"/>
<rect x="640.72" y="629.5" width="1.2" height="4.6" fill="#000"/>
<rect x="665.88" y="629.5" width="1.2" height="4.6" fill="#000"/>
<rect x="691.94" y="629.5" width="1.2" height="4.6" fill="#000"/>
<rect x="718.09" y="629.5" width="1.2" height="4.6" fill="#000"/>
<rect x="743.95" y="629.5" width="1.2" height="4.6" fill="#000"/>
<rect x="770.11" y="629.5" width="1.2" height="4.6" fill="#000"/>
<rect x="795.97" y="629.5" width="1.2" height="4.6" fill="#000"/>
<rect x="822.83" y="629.5" width="1.2" height="4.6" fill="#000"/>
<rect x="848.89" y="629.5" width="1.2" height="4.6" fill="#000"/>
<rect x="874.05" y="629.5" width="1.2" height="4.6" fill="#000"/>
<rect x="900.11" y="629.5" width="1.2" height="4.6" fill="#000"/>
<rect x="926.16" y="629.5" width="1.2" height="4.6" fill="#000"/>
<rect x="952.12" y="629.5" width="1.2" height="4.6" fill="#000"/>
<rect x="978.18" y="629.5" width="1.2" height="4.6" fill="#000"/>
<rect x="1004.24" y="629.5" width="1.2" height="4.6" fill="#000"/>
<rect x="588.9" y="500.8" width="442.5" height="1.2" fill="#000"/>
<rect x="588.9" y="705.8" width="442.5" height="1.2" fill="#000"/>
<rect x="588.9" y="500.8" width="1.2" height="206.2" fill="#000"/>
<rect x="1030.2" y="500.8" width="1.2" height="206.2" fill="#000"/>
<text x="596.98" y="734.9" font-family="'Liberation Serif','Times New Roman',serif" font-size="14.2" textLength="10.4" lengthAdjust="spacingAndGlyphs">-8</text>
<text x="622.94" y="734.9" font-family="'Liberation Serif','Times New Roman',serif" font-size="14.2" textLength="10.4" lengthAdjust="spacingAndGlyphs">-7</text>
<text x="648.9" y="734.9" font-family="'Liberation Serif','Times New Roman',serif" font-size="14.2" textLength="10.4" lengthAdjust="spacingAndGlyphs">-6</text>
<text x="674.86" y="734.9" font-family="'Liberation Serif','Times New Roman',serif" font-size="14.2" textLength="10.4" lengthAdjust="spacingAndGlyphs">-5</text>
<text x="700.81" y="734.9" font-family="'Liberation Serif','Times New Roman',serif" font-size="14.2" textLength="10.4" lengthAdjust="spacingAndGlyphs">-4</text>
<text x="726.77" y="734.9" font-family="'Liberation Serif','Times New Roman',serif" font-size="14.2" textLength="10.4" lengthAdjust="spacingAndGlyphs">-3</text>
<text x="752.73" y="734.9" font-family="'Liberation Serif','Times New Roman',serif" font-size="14.2" textLength="10.4" lengthAdjust="spacingAndGlyphs">-2</text>
<text x="778.69" y="734.9" font-family="'Liberation Serif','Times New Roman',serif" font-size="14.2" textLength="10.4" lengthAdjust="spacingAndGlyphs">-1</text>
<text x="806.95" y="734.9" font-family="'Liberation Serif','Times New Roman',serif" font-size="14.2" textLength="6.4" lengthAdjust="spacingAndGlyphs">0</text>
<text x="832.91" y="734.9" font-family="'Liberation Serif','Times New Roman',serif" font-size="14.2" textLength="6.4" lengthAdjust="spacingAndGlyphs">1</text>
<text x="858.87" y="734.9" font-family="'Liberation Serif','Times New Roman',serif" font-size="14.2" textLength="6.4" lengthAdjust="spacingAndGlyphs">2</text>
<text x="884.83" y="734.9" font-family="'Liberation Serif','Times New Roman',serif" font-size="14.2" textLength="6.4" lengthAdjust="spacingAndGlyphs">3</text>
<text x="910.79" y="734.9" font-family="'Liberation Serif','Times New Roman',serif" font-size="14.2" textLength="6.4" lengthAdjust="spacingAndGlyphs">4</text>
<text x="936.74" y="734.9" font-family="'Liberation Serif','Times New Roman',serif" font-size="14.2" textLength="6.4" lengthAdjust="spacingAndGlyphs">5</text>
<text x="962.7" y="734.9" font-family="'Liberation Serif','Times New Roman',serif" font-size="14.2" textLength="6.4" lengthAdjust="spacingAndGlyphs">6</text>
<text x="988.66" y="734.9" font-family="'Liberation Serif','Times New Roman',serif" font-size="14.2" textLength="6.4" lengthAdjust="spacingAndGlyphs">7</text>
<text x="1014.62" y="734.9" font-family="'Liberation Serif','Times New Roman',serif" font-size="14.2" textLength="6.4" lengthAdjust="spacingAndGlyphs">8</text>
<rect x="569" y="748.9" width="9" height="11.9" rx="0.3" fill="#000"/>
<rect x="570.9" y="751.9" width="5.2" height="5.9" fill="#9999ff"/>
<text x="581.5" y="759.2" font-family="'Liberation Serif','Times New Roman',serif" font-size="16.6" textLength="132.3" lengthAdjust="spacingAndGlyphs">Componente transitorio</text>
<rect x="813.9" y="748.9" width="8.7" height="11.3" rx="0" fill="#000"/>
<text x="826.1" y="759.2" font-family="'Liberation Serif','Times New Roman',serif" font-size="16.6" textLength="197" lengthAdjust="spacingAndGlyphs">Componente transitorio en recesión</text>
<rect x="569" y="778.1" width="9" height="10.8" rx="0.3" fill="#000"/>
<rect x="570.8" y="780.2" width="5.4" height="6.6" fill="#fff"/>
<text x="581.5" y="787.8" font-family="'Liberation Serif','Times New Roman',serif" font-size="16.6" textLength="207.3" lengthAdjust="spacingAndGlyphs">Componente transitorio en expansión</text>
</g>
<text x="51.8" y="820.7" font-family="'Liberation Serif','Times New Roman',serif" font-size="17" textLength="454.8" lengthAdjust="spacingAndGlyphs">Fuente: Encuestas de hogares, DANE; cálculos de los autores.</text>
</svg></body></html>
